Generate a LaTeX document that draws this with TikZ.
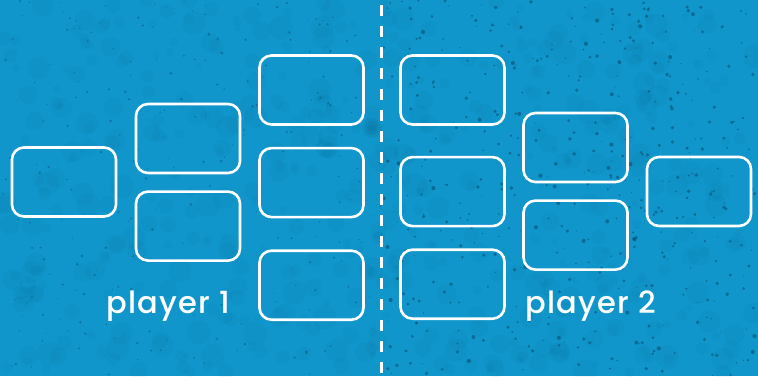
\documentclass[tikz,border=0pt]{standalone}
\usepackage{fontspec}
\setmainfont{Poppins}
\newfontfamily\labelfont{Poppins Medium}[LetterSpace=4]
\usepackage{xcolor}
\definecolor{tableblue}{RGB}{16,150,203}
\definecolor{speckdark}{RGB}{8,72,104}
\usetikzlibrary{positioning}

\begin{document}
\begin{tikzpicture}[
    x=1pt, y=-1pt,
    node distance=16pt,
    slot/.style={rectangle, draw=white, line width=2.6pt,
                minimum width=104pt, minimum height=69pt,
                rounded corners=12pt, inner sep=0pt},
    playerlabel/.style={text=white, font=\labelfont\fontsize{30.5}{36}\selectfont,
                anchor=base, inner sep=0pt},
    divider/.style={white, line width=2.6pt, dash pattern=on 10.5pt off 10.5pt}
]
    % Table
    \useasboundingbox (0,0) rectangle (758,376);
    \fill[tableblue] (0,0) rectangle (758,376);

    % Texture
    \pgfmathsetseed{4271}
    \foreach \i in {1,...,500}{
        \pgfmathsetmacro{\px}{rnd*758}
        \pgfmathsetmacro{\py}{rnd*376}
        \pgfmathsetmacro{\pr}{3+rnd*9}
        \fill[speckdark, opacity=0.045] (\px,\py) circle (\pr);
    }
    \foreach \i in {1,...,450}{
        \pgfmathsetmacro{\px}{380+rnd*378}
        \pgfmathsetmacro{\py}{rnd*376}
        \pgfmathsetmacro{\pr}{0.5+rnd*1.6}
        \fill[speckdark, opacity=0.55] (\px,\py) circle (\pr);
    }
    \foreach \i in {1,...,250}{
        \pgfmathsetmacro{\px}{rnd*380}
        \pgfmathsetmacro{\py}{rnd*376}
        \pgfmathsetmacro{\pr}{0.4+rnd*1.0}
        \fill[speckdark, opacity=0.45] (\px,\py) circle (\pr);
    }
    \foreach \r in {4,7,10}{
        \fill[speckdark, opacity=0.1] (372,128) circle (\r);
    }

    % Player 1
    \node[slot] (p1a) at (64,182) {};
    \node[slot] (p1b) at (188,138.5) {};
    \node[slot, below=16pt of p1b] (p1c) {};
    \node[slot] (p1d) at (311.5,90) {};
    \node[slot, below=21pt of p1d] (p1e) {};
    \node[slot, below=31pt of p1e] (p1f) {};

    % Player 2
    \node[slot] (p2a) at (452.5,90) {};
    \node[slot, below=30pt of p2a] (p2b) {};
    \node[slot, below=21pt of p2b] (p2c) {};
    \node[slot] (p2d) at (575.5,147.5) {};
    \node[slot, below=16pt of p2d] (p2e) {};
    \node[slot] (p2f) at (699,191.5) {};

    % Labels
    \node[playerlabel] (name1) at (168.5,313) {player 1};
    \node[playerlabel] (name2) at (590.5,313) {player 2};

    % Divider
    \coordinate (top) at (381.3,5);
    \coordinate (bottom) at (381.3,376);
    \draw[divider] (top) -- (bottom);
\end{tikzpicture}
\end{document}
